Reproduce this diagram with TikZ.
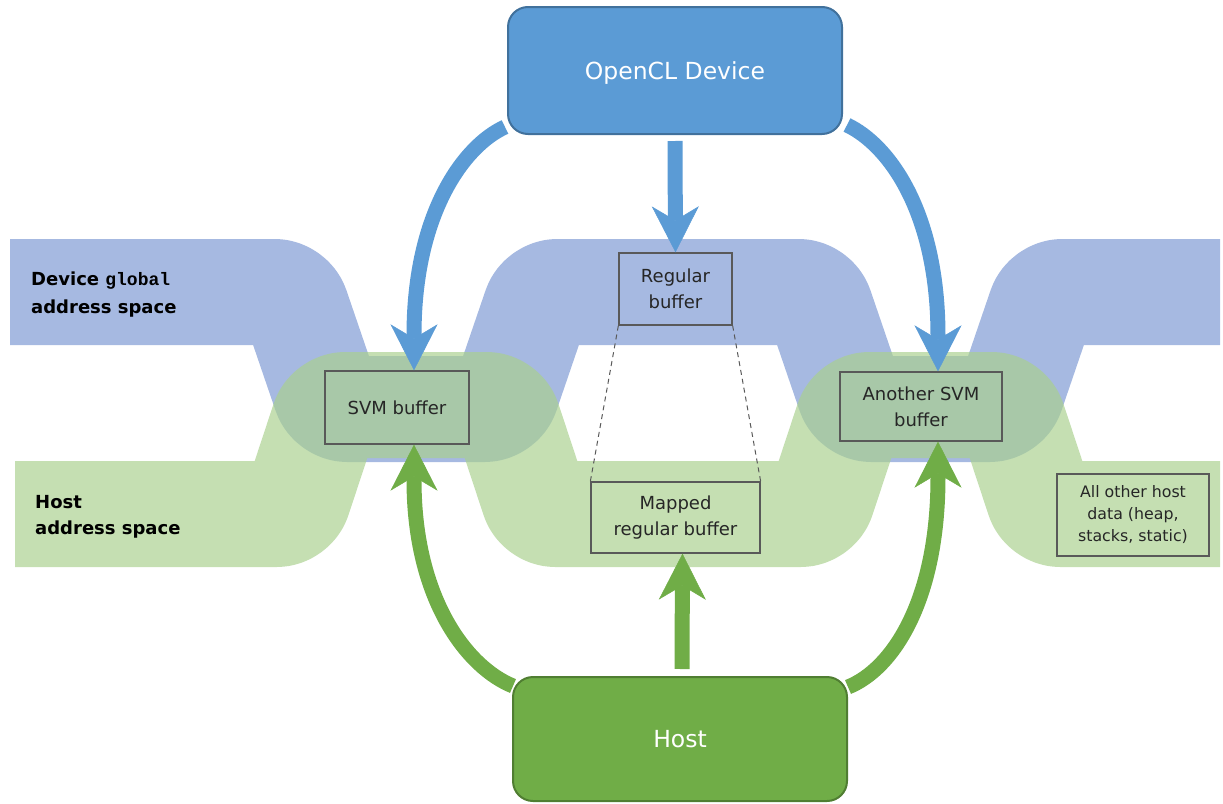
\documentclass[tikz,border=0pt]{standalone}
\usepackage{fontspec}
\setmainfont{DejaVu Sans}
\setmonofont{Liberation Mono}
\usetikzlibrary{arrows.meta}
\definecolor{devblue}{HTML}{5B9BD5}
\definecolor{devborder}{HTML}{41719C}
\definecolor{hostgreen}{HTML}{70AD47}
\definecolor{hostborder}{HTML}{507E32}
\definecolor{bandblue}{HTML}{A6B9E1}
\definecolor{bandgreen}{HTML}{A9D08E}
\definecolor{boxgray}{HTML}{595959}
\definecolor{txtdark}{HTML}{262626}
\begin{document}
\begin{tikzpicture}[x=1pt,y=-1pt,
  band/.style={line width=106pt, rounded corners=16pt, line cap=butt, line join=round},
  bufbox/.style={draw=boxgray, line width=1.3pt, align=center, inner sep=0pt, font=\fontsize{18}{26}\selectfont, text=txtdark},
  bigbox/.style={rounded corners=20pt, line width=2pt, text=white, inner sep=0pt, font=\fontsize{23.5}{28}\selectfont},
  flow/.style={line width=15pt, line cap=butt, line join=round, -{Stealth[length=46pt,width=47pt,inset=14pt,line width=0.5pt]}},
  conn/.style={draw=boxgray, line width=1pt, dash pattern=on 5pt off 4pt},
  lbl/.style={anchor=base west, inner sep=0pt, font=\fontsize{18}{26}\selectfont\bfseries}
]
\useasboundingbox (0,0) rectangle (1223,803);

% address-space bands
\draw[band, bandblue] (10,292) -- (291,292) -- (331,409) -- (501,409) -- (541,292) -- (815,292) -- (855,409) -- (1006,409) -- (1046,292) -- (1220,292);
\draw[band, bandgreen, draw opacity=0.68] (15,514) -- (293,514) -- (329,405) -- (503,405) -- (539,514) -- (817,514) -- (853,405) -- (1008,405) -- (1044,514) -- (1220,514);

% labels
\node[lbl] (lab1) at (31,285) {Device {\ttfamily global}};
\node[lbl] (lab2) at (31,313) {address space};
\node[lbl] (lab3) at (35,508) {Host};
\node[lbl] (lab4) at (35,534) {address space};

% buffers
\node[bufbox, minimum width=144pt, minimum height=73pt] (svm) at (397,407.5) {SVM buffer};
\node[bufbox, minimum width=113pt, minimum height=72pt] (reg) at (675.5,289) {Regular\\buffer};
\node[bufbox, minimum width=169pt, minimum height=71pt] (map) at (675.5,517.5) {Mapped\\regular buffer};
\node[bufbox, minimum width=162pt, minimum height=69pt] (asvm) at (921,406.5) {Another SVM\\buffer};
\node[bufbox, minimum width=152pt, minimum height=82pt, font=\fontsize{15.8}{22}\selectfont] (other) at (1133,515) {All other host\\data (heap,\\stacks, static)};

\draw[conn] (reg.south west) -- (map.north west);
\draw[conn] (reg.south east) -- (map.north east);

% device and host
\node[bigbox, fill=devblue, draw=devborder, minimum width=334pt, minimum height=127pt, text depth=0pt] (dev) at (675,70.5) {OpenCL Device};
\node[bigbox, fill=hostgreen, draw=hostborder, minimum width=334pt, minimum height=124pt] (host) at (680,739) {Host};

\coordinate (d1) at (505,127);
\coordinate (d3) at (847,125);
\coordinate (h1) at (513,686);
\coordinate (h3) at (848,687);

\draw[flow, devblue] (d1) .. controls (465,145) and (414,212) .. (414,335) -- ([xshift=17pt]svm.north);
\draw[flow, devblue] ([yshift=-6pt]dev.south) -- (reg.north);
\draw[flow, devblue] (d3) .. controls (889,145) and (938,212) .. (938,336) -- ([xshift=17pt]asvm.north);

\draw[flow, hostgreen] (h1) .. controls (468,668) and (414,600) .. (414,480) -- ([xshift=17pt]svm.south);
\draw[flow, hostgreen] ([xshift=2pt,yshift=7pt]host.north) -- ([xshift=7pt]map.south);
\draw[flow, hostgreen] (h3) .. controls (893,669) and (938,600) .. (938,477) -- ([xshift=17pt]asvm.south);
\end{tikzpicture}
\end{document}
